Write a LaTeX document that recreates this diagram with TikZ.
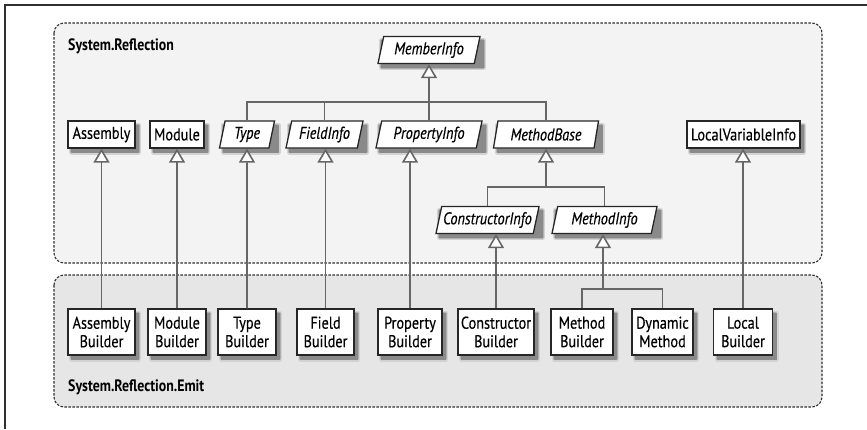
\documentclass[tikz,border=0pt]{standalone}
\usepackage{fontspec}
\setmainfont{PT Sans}[FakeStretch=0.84, UprightFeatures={FakeBold=0.4}, ItalicFeatures={FakeBold=0.4}]
\usetikzlibrary{arrows.meta,shapes.geometric}
\definecolor{boxcol}{HTML}{262626}
\definecolor{linecol}{HTML}{666666}
\definecolor{upfill}{HTML}{F3F3F3}
\definecolor{lowfill}{HTML}{E6E6E6}
\definecolor{regcol}{HTML}{303030}
\definecolor{shA}{HTML}{D2D2D2}
\definecolor{shB}{HTML}{AFAFAF}
\definecolor{shC}{HTML}{8A8A8A}
\tikzset{
  rbox/.style={draw=boxcol, line width=1.3pt, fill=white, minimum height=27pt, inner sep=0pt, font=\fontsize{17}{18.5}\selectfont},
  bbox/.style={rbox, minimum height=46pt, align=center},
  pbox/.style={rbox, trapezium, trapezium left angle=70, trapezium right angle=110, trapezium stretches body, font=\fontsize{17}{18.5}\selectfont\itshape},
  shlayer/.style={fill=#1, draw=#1, text=#1, line join=round},
  conn/.style={draw=linecol, line width=1.6pt},
  inh/.style={conn, -{Triangle[open, length=14pt, width=16pt, fill=white]}},
  region/.style={draw=regcol, line width=1.1pt, dash pattern=on 2.5pt off 1.5pt, rounded corners=10pt},
  nslabel/.style={anchor=west, inner sep=0pt, font=\fontsize{16.5}{18}\selectfont\bfseries}
}
% #1 style, #2 name, #3 position, #4 text
\newcommand\cls[4]{%
  \begin{scope}[shift={(3.5,4)}]
  \node[#1, shlayer=shA, line width=5pt] (#2-s1) at (#3) {};
  \node[#1, shlayer=shB, line width=2.5pt] (#2-s2) at (#3) {};
  \node[#1, shlayer=shC, line width=0.4pt] (#2-s3) at (#3) {};
  \end{scope}
  \node[#1] (#2) at (#3) {#4};}
\begin{document}
\begin{tikzpicture}[x=1pt, y=-1pt]
\useasboundingbox (0,0) rectangle (867,429);
\draw[draw=regcol, line width=1.3pt] (5,429) -- (5,5) -- (867,5);
\draw[region, fill=upfill] (54,23) rectangle (822,263);
\draw[region, fill=lowfill] (54,275) rectangle (822,407);
\node[nslabel] (ns1) at (68,46) {System.Reflection};
\node[nslabel] (ns2) at (68,387) {System.Reflection.Emit};

\coordinate (memj) at (429,102);
\coordinate (mbj) at (546,187);
\coordinate (mtj) at (603,289);

% parallelogram (abstract) classes
\cls{pbox, minimum width=102pt}{mem}{429,50}{MemberInfo}
\cls{pbox, minimum width=55pt}{typ}{247,134.5}{Type}
\cls{pbox, minimum width=77pt}{fld}{324.5,134.5}{FieldInfo}
\cls{pbox, minimum width=106pt}{prp}{429,134.5}{PropertyInfo}
\cls{pbox, minimum width=105pt}{mbs}{546,134.5}{MethodBase}
\cls{pbox, minimum width=103pt}{cti}{487.5,220}{ConstructorInfo}
\cls{pbox, minimum width=105pt}{mti}{604.5,220}{MethodInfo}

% rectangular classes
\cls{rbox, minimum width=67pt}{asm}{101.5,134.5}{Assembly}
\cls{rbox, minimum width=54pt}{mod}{177,134.5}{Module}
\cls{rbox, minimum width=113pt}{lvi}{743.5,134.5}{LocalVariableInfo}

% builders
\cls{bbox, minimum width=67pt}{asb}{101.5,332}{Assembly\\Builder}
\cls{bbox, minimum width=58pt}{mdb}{177,332}{Module\\Builder}
\cls{bbox, minimum width=58pt}{tyb}{247,332}{Type\\Builder}
\cls{bbox, minimum width=57pt}{fdb}{325.5,332}{Field\\Builder}
\cls{bbox, minimum width=64pt}{prb}{410,332}{Property\\Builder}
\cls{bbox, minimum width=76pt}{ctb}{496,332}{Constructor\\Builder}
\cls{bbox, minimum width=62pt}{mtb}{582,332}{Method\\Builder}
\cls{bbox, minimum width=61pt}{dym}{662.5,332}{Dynamic\\Method}
\cls{bbox, minimum width=59pt}{lcb}{743,332}{Local\\Builder}

% MemberInfo hierarchy
\draw[conn] (typ.north) |- (mbs.north |- memj) -- (mbs.north);
\draw[conn] (fld.north) -- (fld.north |- memj);
\draw[conn] (prp.north) -- (memj);
\draw[inh] (memj) -- (mem.south);

% MethodBase hierarchy
\draw[conn] (cti.north) |- (mti.north |- mbj) -- (mti.north);
\draw[inh] (mbj) -- (mbs.south);

% builders to base classes
\draw[inh] (asb.north) -- (asm.south);
\draw[inh] (mdb.north) -- (mod.south);
\draw[inh] (tyb.north) -- (typ.south);
\draw[inh] (fdb.north) -- (fdb.north |- fld.south);
\draw[inh] (prb.north) -- (prb.north |- prp.south);
\draw[inh] (ctb.north) -- (ctb.north |- cti.south);
\draw[inh] (lcb.north) -- (lcb.north |- lvi.south);
\draw[conn] (mtb.north) |- (dym.north |- mtj) -- (dym.north);
\draw[inh] (mtj) -- (mtj |- mti.south);
\end{tikzpicture}
\end{document}
